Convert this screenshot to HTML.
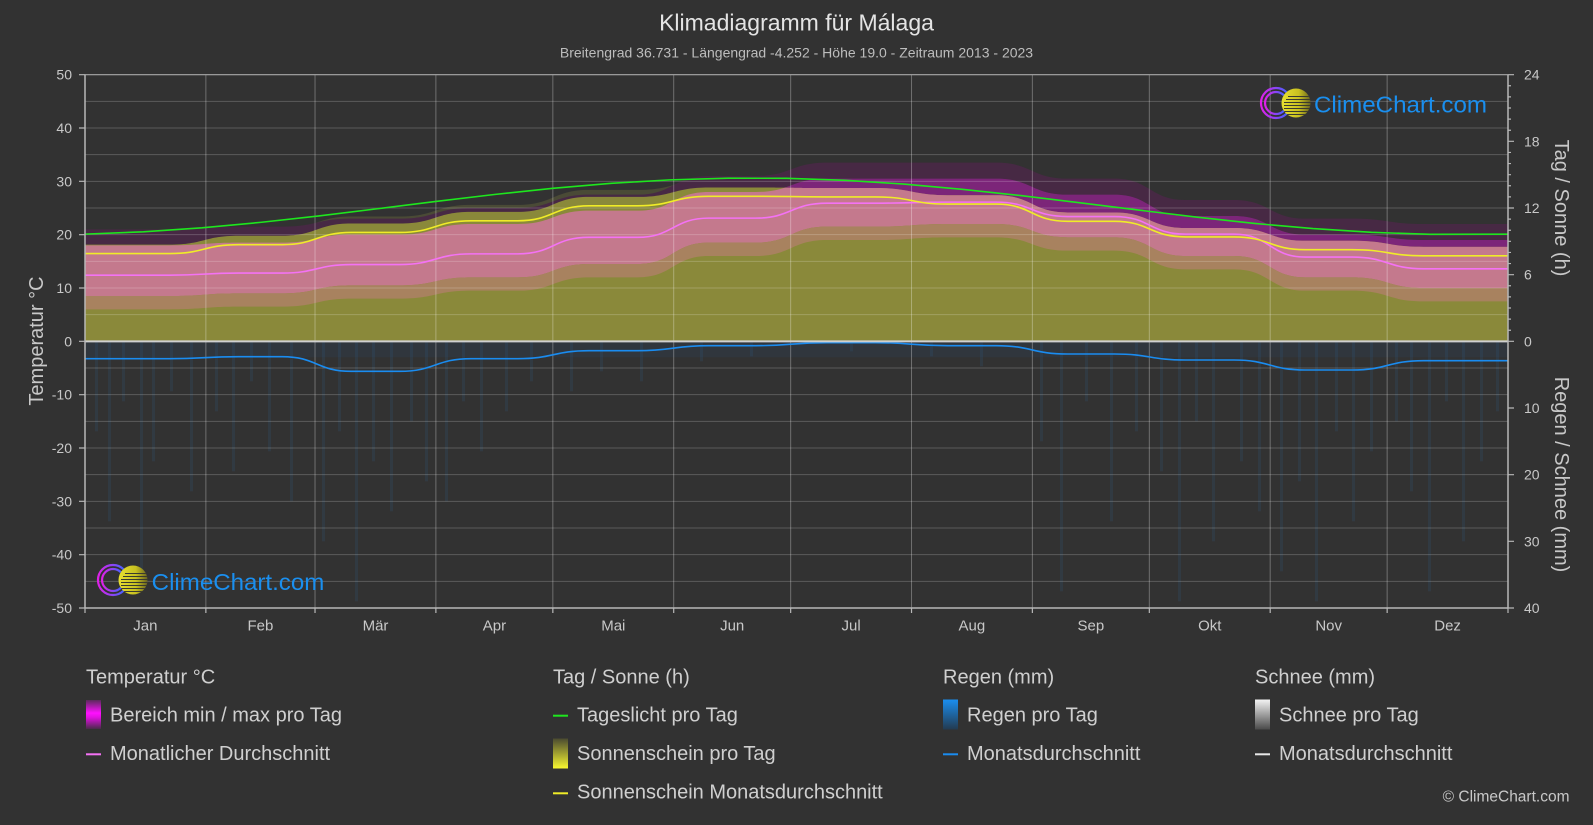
<!DOCTYPE html>
<html>
<head>
<meta charset="utf-8">
<style>
  html,body{margin:0;padding:0;background:#323232;}
  svg{display:block;}
  text{font-family:"Liberation Sans",Arial,sans-serif;}
</style>
</head>
<body>
<svg width="1593" height="825" viewBox="0 0 1593 825" xmlns="http://www.w3.org/2000/svg">
<defs>
  <clipPath id="plot"><rect x="85" y="74.67" width="1423" height="533.33"/></clipPath>
  <clipPath id="olive">
    <path d="M85,244.67 L169.6,244.67 C204.1,244.67 204.1,235.78 238.6,235.78 L282.2,235.78 C316.75,235.78 316.75,223.55 351.3,223.55 L399.7,223.55 C435.35,223.55 435.35,211.89 471,211.89 L517.8,211.89 C553.45,211.89 553.45,196.89 589.1,196.89 L637.5,196.89 C673.15,196.89 673.15,187.44 708.8,187.44 L755.6,187.44 C791.25,187.44 791.25,188 826.9,188 L875.3,188 C911.5,188 911.5,195.22 947.7,195.22 L996.1,195.22 C1031.8,195.22 1031.8,212.44 1067.5,212.44 L1114.3,212.44 C1149.95,212.44 1149.95,228 1185.6,228 L1234,228 C1269.65,228 1269.65,240.78 1305.3,240.78 L1352.1,240.78 C1387.75,240.78 1387.75,246.89 1423.4,246.89 L1508,246.89 L1508,341.33 L85,341.33 Z"/>
  </clipPath>
  <path id="bandShape" d="M85,245.33 L169.6,245.33 C204.1,245.33 204.1,242.67 238.6,242.67 L282.2,242.67 C316.75,242.67 316.75,234.67 351.3,234.67 L399.7,234.67 C435.35,234.67 435.35,224 471,224 L517.8,224 C553.45,224 553.45,210.67 589.1,210.67 L637.5,210.67 C673.15,210.67 673.15,192 708.8,192 L755.6,192 C791.25,192 791.25,178.67 826.9,178.67 L875.3,178.67 C911.5,178.67 911.5,178.67 947.7,178.67 L996.1,178.67 C1031.8,178.67 1031.8,194.67 1067.5,194.67 L1114.3,194.67 C1149.95,194.67 1149.95,216 1185.6,216 L1234,216 C1269.65,216 1269.65,234.67 1305.3,234.67 L1352.1,234.67 C1387.75,234.67 1387.75,240 1423.4,240 L1508,240 L1508,288 L1423.4,288 C1387.75,288 1387.75,277.33 1352.1,277.33 L1305.3,277.33 C1269.65,277.33 1269.65,256 1234,256 L1185.6,256 C1149.95,256 1149.95,237.33 1114.3,237.33 L1067.5,237.33 C1031.8,237.33 1031.8,224 996.1,224 L947.7,224 C911.5,224 911.5,226.67 875.3,226.67 L826.9,226.67 C791.25,226.67 791.25,242.67 755.6,242.67 L708.8,242.67 C673.15,242.67 673.15,264 637.5,264 L589.1,264 C553.45,264 553.45,277.33 517.8,277.33 L471,277.33 C435.35,277.33 435.35,285.33 399.7,285.33 L351.3,285.33 C316.75,285.33 316.75,293.33 282.2,293.33 L238.6,293.33 C204.1,293.33 204.1,296 169.6,296 L85,296 Z"/>
  <linearGradient id="gTemp" x1="0" y1="0" x2="0" y2="1">
    <stop offset="0" stop-color="#5a2a5a"/>
    <stop offset="0.45" stop-color="#ff10ff"/>
    <stop offset="0.6" stop-color="#e010e0"/>
    <stop offset="1" stop-color="#4a2a4a"/>
  </linearGradient>
  <linearGradient id="gSun" x1="0" y1="0" x2="0" y2="1">
    <stop offset="0" stop-color="#4a4a30"/>
    <stop offset="1" stop-color="#f8f830"/>
  </linearGradient>
  <linearGradient id="gRain" x1="0" y1="0" x2="0" y2="1">
    <stop offset="0" stop-color="#1a8ef0"/>
    <stop offset="1" stop-color="#233a50"/>
  </linearGradient>
  <linearGradient id="gSnow" x1="0" y1="0" x2="0" y2="1">
    <stop offset="0" stop-color="#f4f4f4"/>
    <stop offset="1" stop-color="#4a4a4a"/>
  </linearGradient>
  <linearGradient id="gRing" x1="0" y1="0" x2="1" y2="0">
    <stop offset="0" stop-color="#e020e8"/>
    <stop offset="1" stop-color="#4a60ff"/>
  </linearGradient>
  <linearGradient id="gSph" x1="0" y1="0" x2="1" y2="0">
    <stop offset="0" stop-color="#e8e030"/>
    <stop offset="0.6" stop-color="#c8c020"/>
    <stop offset="1" stop-color="#6a6420"/>
  </linearGradient>
  <clipPath id="sph1"><circle cx="1296" cy="103" r="14.5"/></clipPath>
  <clipPath id="sph2"><circle cx="133" cy="580" r="14.5"/></clipPath>
</defs>

<rect x="0" y="0" width="1593" height="825" fill="#323232"/>

<!-- Title -->
<text x="796.5" y="30.7" font-size="23" fill="#e4e4e4" text-anchor="middle">Klimadiagramm für Málaga</text>
<text x="796.5" y="57.3" font-size="14" fill="#bdbdbd" text-anchor="middle">Breitengrad 36.731 - Längengrad -4.252 - Höhe 19.0 - Zeitraum 2013 - 2023</text>

<g clip-path="url(#plot)">
  <!-- rain streaks -->
  <rect x="85" y="341.33" width="1423" height="16" fill="#2a4560" opacity="0.25"/>
  <g fill="#2f5b82" opacity="0.2">
    <rect x="95" y="341.33" width="3" height="90"/>
    <rect x="108" y="341.33" width="3" height="180"/>
    <rect x="122" y="341.33" width="3" height="60"/>
    <rect x="140" y="341.33" width="3" height="240"/>
    <rect x="152" y="341.33" width="3" height="120"/>
    <rect x="170" y="341.33" width="3" height="50"/>
    <rect x="190" y="341.33" width="3" height="150"/>
    <rect x="215" y="341.33" width="3" height="70"/>
    <rect x="232" y="341.33" width="3" height="130"/>
    <rect x="250" y="341.33" width="3" height="40"/>
    <rect x="268" y="341.33" width="3" height="110"/>
    <rect x="290" y="341.33" width="3" height="160"/>
    <rect x="322" y="341.33" width="3" height="200"/>
    <rect x="338" y="341.33" width="3" height="90"/>
    <rect x="355" y="341.33" width="3" height="260"/>
    <rect x="372" y="341.33" width="3" height="120"/>
    <rect x="390" y="341.33" width="3" height="170"/>
    <rect x="410" y="341.33" width="3" height="80"/>
    <rect x="425" y="341.33" width="3" height="140"/>
    <rect x="445" y="341.33" width="3" height="160"/>
    <rect x="462" y="341.33" width="3" height="60"/>
    <rect x="480" y="341.33" width="3" height="110"/>
    <rect x="505" y="341.33" width="3" height="70"/>
    <rect x="530" y="341.33" width="3" height="40"/>
    <rect x="570" y="341.33" width="3" height="50"/>
    <rect x="600" y="341.33" width="3" height="30"/>
    <rect x="640" y="341.33" width="3" height="40"/>
    <rect x="700" y="341.33" width="3" height="20"/>
    <rect x="750" y="341.33" width="3" height="15"/>
    <rect x="850" y="341.33" width="3" height="10"/>
    <rect x="930" y="341.33" width="3" height="15"/>
    <rect x="980" y="341.33" width="3" height="25"/>
    <rect x="1040" y="341.33" width="3" height="100"/>
    <rect x="1060" y="341.33" width="3" height="250"/>
    <rect x="1085" y="341.33" width="3" height="60"/>
    <rect x="1110" y="341.33" width="3" height="180"/>
    <rect x="1135" y="341.33" width="3" height="90"/>
    <rect x="1160" y="341.33" width="3" height="130"/>
    <rect x="1178" y="341.33" width="3" height="260"/>
    <rect x="1195" y="341.33" width="3" height="80"/>
    <rect x="1212" y="341.33" width="3" height="200"/>
    <rect x="1240" y="341.33" width="3" height="120"/>
    <rect x="1258" y="341.33" width="3" height="170"/>
    <rect x="1280" y="341.33" width="3" height="230"/>
    <rect x="1298" y="341.33" width="3" height="140"/>
    <rect x="1315" y="341.33" width="3" height="260"/>
    <rect x="1335" y="341.33" width="3" height="90"/>
    <rect x="1352" y="341.33" width="3" height="180"/>
    <rect x="1370" y="341.33" width="3" height="110"/>
    <rect x="1395" y="341.33" width="3" height="80"/>
    <rect x="1410" y="341.33" width="3" height="150"/>
    <rect x="1428" y="341.33" width="3" height="250"/>
    <rect x="1445" y="341.33" width="3" height="60"/>
    <rect x="1462" y="341.33" width="3" height="200"/>
    <rect x="1480" y="341.33" width="3" height="120"/>
    <rect x="1496" y="341.33" width="3" height="70"/>
  </g>

  <!-- olive fringe (sunshine ragged top) -->
  <path fill="#4a4a36" d="M85,237.67 L169.6,237.67 C204.1,237.67 204.1,228.78 238.6,228.78 L282.2,228.78 C316.75,228.78 316.75,216.55 351.3,216.55 L399.7,216.55 C435.35,216.55 435.35,204.89 471,204.89 L517.8,204.89 C553.45,204.89 553.45,189.89 589.1,189.89 L637.5,189.89 C673.15,189.89 673.15,180.44 708.8,180.44 L755.6,180.44 C791.25,180.44 791.25,181 826.9,181 L875.3,181 C911.5,181 911.5,188.22 947.7,188.22 L996.1,188.22 C1031.8,188.22 1031.8,205.44 1067.5,205.44 L1114.3,205.44 C1149.95,205.44 1149.95,221 1185.6,221 L1234,221 C1269.65,221 1269.65,233.78 1305.3,233.78 L1352.1,233.78 C1387.75,233.78 1387.75,239.89 1423.4,239.89 L1508,239.89 L1508,341.33 L85,341.33 Z"/>

  <!-- faint magenta above max -->
  <path fill="#472944" d="M85,229.33 L169.6,229.33 C204.1,229.33 204.1,226.67 238.6,226.67 L282.2,226.67 C316.75,226.67 316.75,218.67 351.3,218.67 L399.7,218.67 C435.35,218.67 435.35,208 471,208 L517.8,208 C553.45,208 553.45,194.67 589.1,194.67 L637.5,194.67 C673.15,194.67 673.15,176 708.8,176 L755.6,176 C791.25,176 791.25,162.67 826.9,162.67 L875.3,162.67 C911.5,162.67 911.5,162.67 947.7,162.67 L996.1,162.67 C1031.8,162.67 1031.8,178.67 1067.5,178.67 L1114.3,178.67 C1149.95,178.67 1149.95,200 1185.6,200 L1234,200 C1269.65,200 1269.65,218.67 1305.3,218.67 L1352.1,218.67 C1387.75,218.67 1387.75,224 1423.4,224 L1508,224 L1508,240 L1423.4,240 C1387.75,240 1387.75,234.67 1352.1,234.67 L1305.3,234.67 C1269.65,234.67 1269.65,216 1234,216 L1185.6,216 C1149.95,216 1149.95,194.67 1114.3,194.67 L1067.5,194.67 C1031.8,194.67 1031.8,178.67 996.1,178.67 L947.7,178.67 C911.5,178.67 911.5,178.67 875.3,178.67 L826.9,178.67 C791.25,178.67 791.25,192 755.6,192 L708.8,192 C673.15,192 673.15,210.67 637.5,210.67 L589.1,210.67 C553.45,210.67 553.45,224 517.8,224 L471,224 C435.35,224 435.35,234.67 399.7,234.67 L351.3,234.67 C316.75,234.67 316.75,242.67 282.2,242.67 L238.6,242.67 C204.1,242.67 204.1,245.33 169.6,245.33 L85,245.33 Z"/>

  <!-- magenta band min..max -->
  <use href="#bandShape" fill="#7c2579"/>

  <!-- olive sunshine area -->
  <path fill="#8a893a" d="M85,244.67 L169.6,244.67 C204.1,244.67 204.1,235.78 238.6,235.78 L282.2,235.78 C316.75,235.78 316.75,223.55 351.3,223.55 L399.7,223.55 C435.35,223.55 435.35,211.89 471,211.89 L517.8,211.89 C553.45,211.89 553.45,196.89 589.1,196.89 L637.5,196.89 C673.15,196.89 673.15,187.44 708.8,187.44 L755.6,187.44 C791.25,187.44 791.25,188 826.9,188 L875.3,188 C911.5,188 911.5,195.22 947.7,195.22 L996.1,195.22 C1031.8,195.22 1031.8,212.44 1067.5,212.44 L1114.3,212.44 C1149.95,212.44 1149.95,228 1185.6,228 L1234,228 C1269.65,228 1269.65,240.78 1305.3,240.78 L1352.1,240.78 C1387.75,240.78 1387.75,246.89 1423.4,246.89 L1508,246.89 L1508,341.33 L85,341.33 Z"/>

  <!-- pink over olive -->
  <g clip-path="url(#olive)">
    <use href="#bandShape" fill="#c4798d"/>
    <path fill="#a8825f" d="M85,296 L169.6,296 C204.1,296 204.1,293.33 238.6,293.33 L282.2,293.33 C316.75,293.33 316.75,285.33 351.3,285.33 L399.7,285.33 C435.35,285.33 435.35,277.33 471,277.33 L517.8,277.33 C553.45,277.33 553.45,264 589.1,264 L637.5,264 C673.15,264 673.15,242.67 708.8,242.67 L755.6,242.67 C791.25,242.67 791.25,226.67 826.9,226.67 L875.3,226.67 C911.5,226.67 911.5,224 947.7,224 L996.1,224 C1031.8,224 1031.8,237.33 1067.5,237.33 L1114.3,237.33 C1149.95,237.33 1149.95,256 1185.6,256 L1234,256 C1269.65,256 1269.65,277.33 1305.3,277.33 L1352.1,277.33 C1387.75,277.33 1387.75,288 1423.4,288 L1508,288 L1508,301.33 L1423.4,301.33 C1387.75,301.33 1387.75,290.67 1352.1,290.67 L1305.3,290.67 C1269.65,290.67 1269.65,269.33 1234,269.33 L1185.6,269.33 C1149.95,269.33 1149.95,250.67 1114.3,250.67 L1067.5,250.67 C1031.8,250.67 1031.8,237.33 996.1,237.33 L947.7,237.33 C911.5,237.33 911.5,240 875.3,240 L826.9,240 C791.25,240 791.25,256 755.6,256 L708.8,256 C673.15,256 673.15,277.33 637.5,277.33 L589.1,277.33 C553.45,277.33 553.45,290.67 517.8,290.67 L471,290.67 C435.35,290.67 435.35,298.67 399.7,298.67 L351.3,298.67 C316.75,298.67 316.75,306.67 282.2,306.67 L238.6,306.67 C204.1,306.67 204.1,309.33 169.6,309.33 L85,309.33 Z"/>
  </g>

  <!-- grid -->
  <g stroke="#ffffff" stroke-opacity="0.2" stroke-width="1" fill="none">
    <path d="M85,101.33H1508M85,128H1508M85,154.67H1508M85,181.33H1508M85,208H1508M85,234.67H1508M85,261.33H1508M85,288H1508M85,314.67H1508M85,368H1508M85,394.67H1508M85,421.33H1508M85,448H1508M85,474.67H1508M85,501.33H1508M85,528H1508M85,554.67H1508M85,581.33H1508"/>
  </g>
  <g stroke="#ffffff" stroke-opacity="0.3" stroke-width="1" fill="none">
    <path d="M205.86,74.67V608M315.02,74.67V608M435.88,74.67V608M552.84,74.67V608M673.7,74.67V608M790.66,74.67V608M911.52,74.67V608M1032.37,74.67V608M1149.33,74.67V608M1270.19,74.67V608M1387.15,74.67V608"/>
  </g>

  <!-- lines -->
  <polyline fill="none" stroke="#1ee61e" stroke-width="1.6" points="85,234.13 143.48,231.8 201.96,227.82 260.44,222.39 318.92,215.9 377.4,208.76 435.87,201.48 494.35,194.51 552.83,188.32 611.31,183.34 669.79,179.88 728.27,178.17 786.75,178.32 845.23,180.33 903.71,184.05 962.19,189.31 1020.66,195.53 1079.14,202.69 1137.62,209.97 1196.1,217.04 1254.58,223.41 1313.06,228.6 1371.54,232.33 1430.02,234.34 1508,234.14"/>
  <path fill="none" stroke="#f472f4" stroke-width="1.6" d="M85,275.2 L169.6,275.2 C204.1,275.2 204.1,273.07 238.6,273.07 L282.2,273.07 C316.75,273.07 316.75,264.53 351.3,264.53 L399.7,264.53 C435.35,264.53 435.35,253.87 471,253.87 L517.8,253.87 C553.45,253.87 553.45,237.33 589.1,237.33 L637.5,237.33 C673.15,237.33 673.15,218.13 708.8,218.13 L755.6,218.13 C791.25,218.13 791.25,203.2 826.9,203.2 L875.3,203.2 C911.5,203.2 911.5,202.13 947.7,202.13 L996.1,202.13 C1031.8,202.13 1031.8,216.53 1067.5,216.53 L1114.3,216.53 C1149.95,216.53 1149.95,234.13 1185.6,234.13 L1234,234.13 C1269.65,234.13 1269.65,257.07 1305.3,257.07 L1352.1,257.07 C1387.75,257.07 1387.75,268.8 1423.4,268.8 L1508,268.8"/>
  <path fill="none" stroke="#f0ec28" stroke-width="1.6" d="M85,253.56 L169.6,253.56 C204.1,253.56 204.1,244.67 238.6,244.67 L282.2,244.67 C316.75,244.67 316.75,232.44 351.3,232.44 L399.7,232.44 C435.35,232.44 435.35,220.78 471,220.78 L517.8,220.78 C553.45,220.78 553.45,205.78 589.1,205.78 L637.5,205.78 C673.15,205.78 673.15,196.33 708.8,196.33 L755.6,196.33 C791.25,196.33 791.25,196.89 826.9,196.89 L875.3,196.89 C911.5,196.89 911.5,204.11 947.7,204.11 L996.1,204.11 C1031.8,204.11 1031.8,221.33 1067.5,221.33 L1114.3,221.33 C1149.95,221.33 1149.95,236.89 1185.6,236.89 L1234,236.89 C1269.65,236.89 1269.65,249.67 1305.3,249.67 L1352.1,249.67 C1387.75,249.67 1387.75,255.78 1423.4,255.78 L1508,255.78"/>
  <path fill="none" stroke="#1a8cf0" stroke-width="1.6" d="M85,358.67 L169.6,358.67 C204.1,358.67 204.1,356.67 238.6,356.67 L282.2,356.67 C316.75,356.67 316.75,371.33 351.3,371.33 L399.7,371.33 C435.35,371.33 435.35,358.67 471,358.67 L517.8,358.67 C553.45,358.67 553.45,350.67 589.1,350.67 L637.5,350.67 C673.15,350.67 673.15,345.67 708.8,345.67 L755.6,345.67 C791.25,345.67 791.25,342.67 826.9,342.67 L875.3,342.67 C911.5,342.67 911.5,345.67 947.7,345.67 L996.1,345.67 C1031.8,345.67 1031.8,354 1067.5,354 L1114.3,354 C1149.95,354 1149.95,360 1185.6,360 L1234,360 C1269.65,360 1269.65,370 1305.3,370 L1352.1,370 C1387.75,370 1387.75,360.67 1423.4,360.67 L1508,360.67"/>
</g>

<!-- zero line & frame -->
<line x1="85" y1="341.33" x2="1508" y2="341.33" stroke="#d0d0d0" stroke-width="2"/>
<line x1="85" y1="74.67" x2="1508" y2="74.67" stroke="#a8a8a8" stroke-width="1.2"/>
<line x1="85" y1="608" x2="1508" y2="608" stroke="#b8b8b8" stroke-width="1.5"/>
<line x1="85" y1="74.67" x2="85" y2="608" stroke="#b8b8b8" stroke-width="1.5"/>
<line x1="1508" y1="74.67" x2="1508" y2="608" stroke="#b8b8b8" stroke-width="1.5"/>

<!-- ticks -->
<g stroke="#b8b8b8" stroke-width="1.2" fill="none">
  <path d="M79,74.67H85M79,128H85M79,181.33H85M79,234.67H85M79,288H85M79,341.33H85M79,394.67H85M79,448H85M79,501.33H85M79,554.67H85M79,608H85"/>
  <path d="M85,608V613M205.86,608V613M315.02,608V613M435.88,608V613M552.84,608V613M673.7,608V613M790.66,608V613M911.52,608V613M1032.37,608V613M1149.33,608V613M1270.19,608V613M1387.15,608V613M1508,608V613"/>
  <path d="M1508,74.67H1514M1508,141.33H1514M1508,208H1514M1508,274.67H1514M1508,341.33H1514M1508,408H1514M1508,474.67H1514M1508,541.33H1514M1508,608H1514"/>
  <path d="M1508,85.78H1511M1508,96.89H1511M1508,108H1511M1508,119.11H1511M1508,130.22H1511M1508,152.44H1511M1508,163.56H1511M1508,174.67H1511M1508,185.78H1511M1508,196.89H1511M1508,219.11H1511M1508,230.22H1511M1508,241.33H1511M1508,252.44H1511M1508,263.56H1511M1508,285.78H1511M1508,296.89H1511M1508,308H1511M1508,319.11H1511M1508,330.22H1511"/>
</g>

<!-- left tick labels -->
<g font-size="14" fill="#c8c8c8" text-anchor="end">
  <text x="72" y="79.67">50</text>
  <text x="72" y="133">40</text>
  <text x="72" y="186.33">30</text>
  <text x="72" y="239.67">20</text>
  <text x="72" y="293">10</text>
  <text x="72" y="346.33">0</text>
  <text x="72" y="399.67">-10</text>
  <text x="72" y="453">-20</text>
  <text x="72" y="506.33">-30</text>
  <text x="72" y="559.67">-40</text>
  <text x="72" y="613">-50</text>
</g>
<!-- right tick labels -->
<g font-size="14" fill="#c8c8c8" text-anchor="start">
  <text x="1524" y="79.67">24</text>
  <text x="1524" y="146.33">18</text>
  <text x="1524" y="213">12</text>
  <text x="1524" y="279.67">6</text>
  <text x="1524" y="346.33">0</text>
  <text x="1524" y="413">10</text>
  <text x="1524" y="479.67">20</text>
  <text x="1524" y="546.33">30</text>
  <text x="1524" y="613">40</text>
</g>
<!-- month labels -->
<g font-size="15" fill="#c8c8c8" text-anchor="middle">
  <text x="145.4" y="630.7">Jan</text>
  <text x="260.4" y="630.7">Feb</text>
  <text x="375.5" y="630.7">Mär</text>
  <text x="494.4" y="630.7">Apr</text>
  <text x="613.3" y="630.7">Mai</text>
  <text x="732.2" y="630.7">Jun</text>
  <text x="851.1" y="630.7">Jul</text>
  <text x="971.9" y="630.7">Aug</text>
  <text x="1090.9" y="630.7">Sep</text>
  <text x="1209.8" y="630.7">Okt</text>
  <text x="1328.7" y="630.7">Nov</text>
  <text x="1447.6" y="630.7">Dez</text>
</g>

<!-- axis titles -->
<text transform="translate(43,341) rotate(-90)" font-size="20" fill="#c8c8c8" text-anchor="middle">Temperatur °C</text>
<text transform="translate(1555,208) rotate(90)" font-size="20" fill="#c8c8c8" text-anchor="middle">Tag / Sonne (h)</text>
<text transform="translate(1555,474.5) rotate(90)" font-size="20" fill="#c8c8c8" text-anchor="middle">Regen / Schnee (mm)</text>

<!-- logo top right -->
<g>
  <path d="M1286.6,92.4 A15,15 0 1,0 1286.6,113.6" fill="none" stroke="url(#gRing)" stroke-width="2.2"/>
  <path d="M1283.8,95.2 A11,11 0 1,0 1283.8,110.8" fill="none" stroke="url(#gRing)" stroke-width="2.2"/>
  <circle cx="1296" cy="103" r="14.5" fill="url(#gSph)"/>
  <g clip-path="url(#sph1)" stroke="#3a3a30" stroke-width="1">
    <path d="M1288,96.5H1312M1286,99.5H1312M1284,102.5H1312M1284,105.5H1312M1284,108.5H1312M1284,111.5H1312M1284,114.5H1312"/>
  </g>
  <text x="1314" y="112.7" font-size="23" fill="#1a8fef" textLength="173" lengthAdjust="spacingAndGlyphs">ClimeChart.com</text>
</g>
<!-- logo bottom left -->
<g>
  <path d="M123.6,569.4 A15,15 0 1,0 123.6,590.6" fill="none" stroke="url(#gRing)" stroke-width="2.2"/>
  <path d="M120.8,572.2 A11,11 0 1,0 120.8,587.8" fill="none" stroke="url(#gRing)" stroke-width="2.2"/>
  <circle cx="133" cy="580" r="14.5" fill="url(#gSph)"/>
  <g clip-path="url(#sph2)" stroke="#3a3a30" stroke-width="1">
    <path d="M125,573.5H149M123,576.5H149M121,579.5H149M121,582.5H149M121,585.5H149M121,588.5H149M121,591.5H149"/>
  </g>
  <text x="151.7" y="590" font-size="23" fill="#1a8fef" textLength="172.6" lengthAdjust="spacingAndGlyphs">ClimeChart.com</text>
</g>

<!-- Legend -->
<g font-size="20" fill="#cfcfcf">
  <text x="86" y="683.3">Temperatur °C</text>
  <rect x="86" y="700" width="15" height="29" fill="url(#gTemp)"/>
  <text x="110" y="721.7">Bereich min / max pro Tag</text>
  <line x1="86" y1="754.3" x2="101" y2="754.3" stroke="#f472f4" stroke-width="2"/>
  <text x="110" y="760">Monatlicher Durchschnitt</text>

  <text x="553" y="683.3">Tag / Sonne (h)</text>
  <line x1="553" y1="715.7" x2="568" y2="715.7" stroke="#1ee61e" stroke-width="2"/>
  <text x="577" y="721.7">Tageslicht pro Tag</text>
  <rect x="553" y="738.5" width="15" height="30" fill="url(#gSun)"/>
  <text x="577" y="760">Sonnenschein pro Tag</text>
  <line x1="553" y1="793.3" x2="568" y2="793.3" stroke="#f0ec28" stroke-width="2"/>
  <text x="577" y="798.3">Sonnenschein Monatsdurchschnitt</text>

  <text x="943" y="683.3">Regen (mm)</text>
  <rect x="943" y="699.5" width="15" height="30" fill="url(#gRain)"/>
  <text x="967" y="721.7">Regen pro Tag</text>
  <line x1="943" y1="754.3" x2="958" y2="754.3" stroke="#1a8cf0" stroke-width="2"/>
  <text x="967" y="760">Monatsdurchschnitt</text>

  <text x="1255" y="683.3">Schnee (mm)</text>
  <rect x="1255" y="699.5" width="15" height="30" fill="url(#gSnow)"/>
  <text x="1279" y="721.7">Schnee pro Tag</text>
  <line x1="1255" y1="754.3" x2="1270" y2="754.3" stroke="#e8e8e8" stroke-width="2"/>
  <text x="1279" y="760">Monatsdurchschnitt</text>
</g>

<text x="1569.5" y="801.7" font-size="15.5" fill="#c8c8c8" text-anchor="end">© ClimeChart.com</text>
</svg>
</body>
</html>
